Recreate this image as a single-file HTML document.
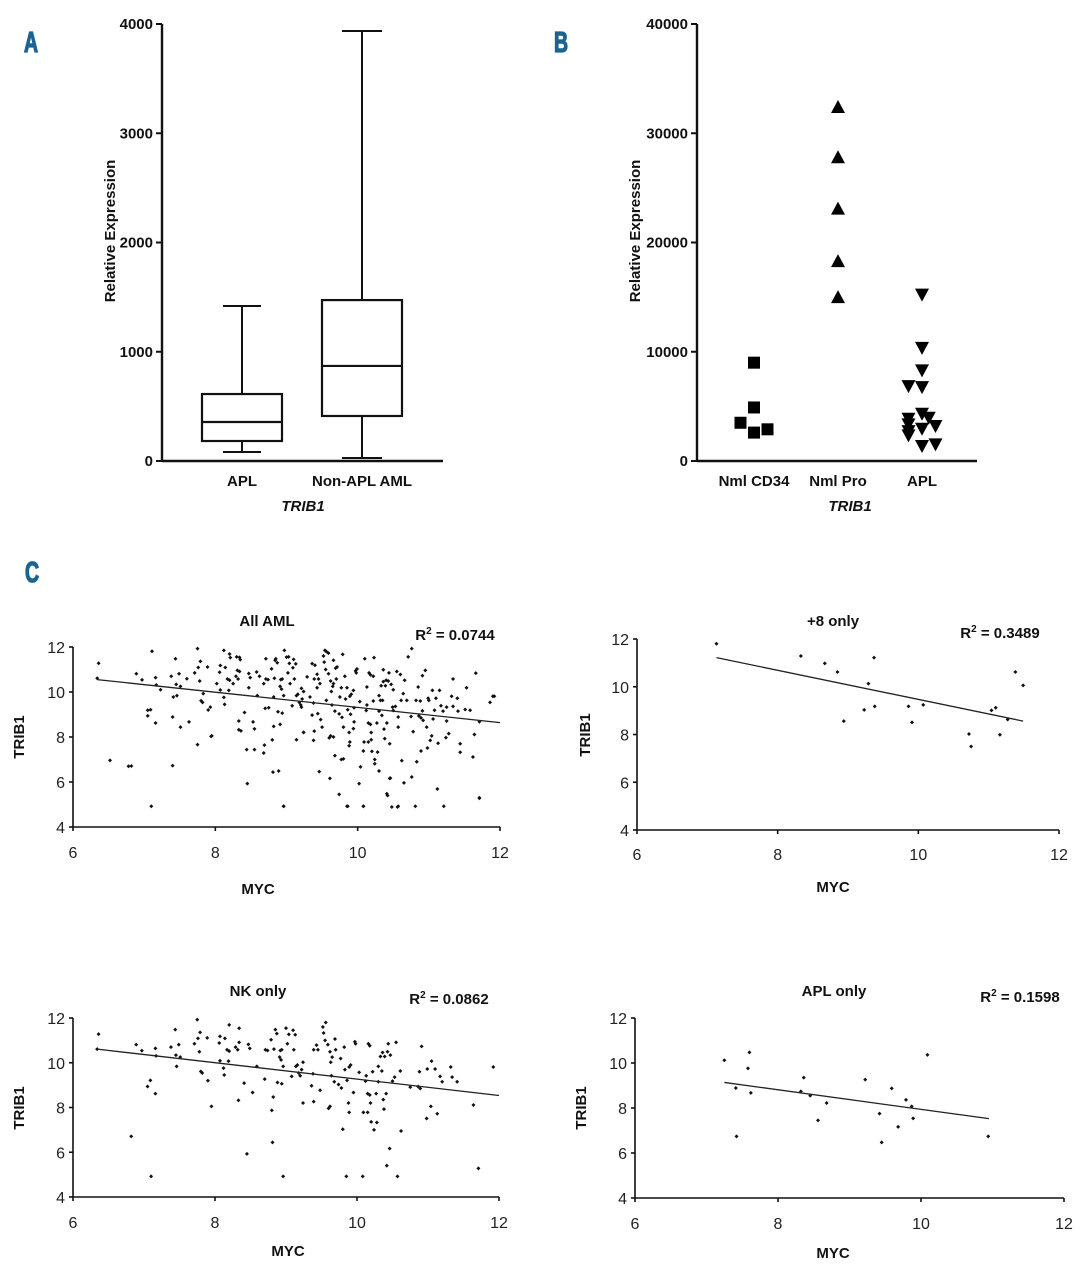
<!DOCTYPE html>
<html><head><meta charset="utf-8">
<style>
html,body{margin:0;padding:0;background:#fff;}
svg{display:block;font-family:"Liberation Sans",sans-serif;}
.pl{fill:#1a6493;stroke:#1a6493;stroke-width:1.2px;font-family:"Liberation Sans",sans-serif;font-weight:bold;font-size:26px;}
.bt{font-weight:bold;font-size:15px;fill:#111;}
.st{font-size:16px;fill:#222;}
.sh{font-weight:bold;font-size:15px;fill:#111;}
</style></head>
<body>
<svg id="fig" width="1091" height="1280" viewBox="0 0 1091 1280">
<text class="pl" transform="translate(24,52) scale(0.75,1.1)">A</text>
<text class="pl" transform="translate(554,52) scale(0.75,1.1)">B</text>
<text class="pl" transform="translate(25,582) scale(0.75,1.1)">C</text>
</svg>
<script>
// ---------- Panel A: box plot data ----------
const boxCategories = ["APL", "Non-APL AML"];
const boxMin = [82, 27];
const boxQ1 = [183, 412];
const boxMedian = [357, 870];
const boxQ3 = [613, 1473];
const boxMax = [1419, 3936];
const boxTicks = [0, 1000, 2000, 3000, 4000];

// ---------- Panel B: dot plot data ----------
const dotCategories = ["Nml CD34", "Nml Pro", "APL"];
const cd34Values = [9000, 4900, 3500, 2600, 2900];
const cd34Jitter = [0, 0, -1, 0, 1];
const proValues = [32400, 27800, 23100, 18300, 15000];
const proJitter = [0, 0, 0, 0, 0];
const aplValues = [15230, 10360, 8290, 6850, 6760, 4330, 3960, 3870, 3350, 3200, 2950, 2740, 2350, 1370, 1520];
const aplJitter = [0, 0, 0, -1, 0, 0, 0.5, -1, -1, 1, 0, -1, -1, 0, 1];
const dotTicks = [0, 10000, 20000, 30000, 40000];

// ---------- Panel C: scatter data (MYC x, TRIB1 y) ----------
const nkX = [6.36,6.34,6.82,6.89,6.97,7.05,7.09,7.10,7.16,7.16,7.17,7.38,7.44,7.45,7.46,7.49,7.51,7.71,7.75,7.76,7.79,7.78,7.80,7.82,7.89,7.90,7.95,8.06,8.07,8.07,8.12,8.13,8.14,8.17,8.19,8.20,8.20,8.29,8.32,8.33,8.34,8.34,8.41,8.45,8.47,8.49,8.53,8.59,8.70,8.71,8.74,8.79,8.80,8.81,8.82,8.83,8.85,8.87,8.88,8.91,8.92,8.93,8.94,8.94,8.96,8.96,9.00,9.02,9.04,9.08,9.10,9.11,9.13,9.14,9.16,9.18,9.20,9.22,9.24,9.24,9.36,9.38,9.39,9.39,9.43,9.45,9.48,9.52,9.53,9.55,9.56,9.59,9.60,9.62,9.62,9.63,9.64,9.65,9.68,9.69,9.70,9.74,9.77,9.78,9.80,9.82,9.83,9.85,9.86,9.88,9.89,9.89,9.91,9.95,9.97,9.98,10.03,10.08,10.09,10.12,10.13,10.15,10.15,10.16,10.18,10.18,10.19,10.20,10.22,10.24,10.27,10.28,10.30,10.30,10.33,10.35,10.36,10.37,10.38,10.39,10.41,10.42,10.43,10.44,10.46,10.47,10.50,10.53,10.55,10.57,10.61,10.62,10.75,10.86,10.88,10.89,10.91,10.98,10.99,11.04,11.05,11.10,11.13,11.17,11.20,11.32,11.34,11.41,11.64,11.71,11.92];
const nkY = [11.28,10.61,6.71,10.81,10.54,8.94,9.21,4.92,10.64,8.62,10.31,10.70,11.48,10.34,9.84,10.81,10.25,10.85,11.93,11.09,11.36,10.49,9.61,9.54,11.11,9.20,8.05,10.88,11.18,10.09,9.76,9.45,11.09,10.58,10.07,11.69,10.52,10.70,10.58,8.32,11.54,10.91,9.09,5.93,10.82,10.64,8.67,9.84,9.27,10.58,10.55,11.03,7.87,6.44,8.47,10.61,11.48,11.30,9.12,10.25,10.55,10.13,9.06,10.58,9.84,4.92,11.55,10.85,11.27,9.39,11.45,10.58,11.25,9.84,9.90,9.54,9.42,9.69,8.20,10.02,8.97,9.51,8.26,10.58,10.79,10.58,8.77,11.60,11.33,11.00,11.80,10.81,7.96,8.05,10.49,10.02,9.42,10.25,9.15,11.06,10.58,9.03,10.19,8.87,7.03,10.70,9.69,4.92,9.21,8.20,7.78,9.81,9.90,8.67,10.94,10.85,9.57,4.92,7.78,9.18,9.42,8.62,7.78,10.85,10.76,8.56,8.20,7.36,9.60,7.00,8.62,7.33,9.15,9.84,10.28,9.63,10.46,8.35,7.93,10.28,8.62,5.40,10.49,10.85,6.17,10.34,9.18,9.36,10.91,4.92,9.63,6.95,8.91,8.94,9.60,8.85,10.73,7.51,9.72,8.05,10.07,9.72,7.72,9.39,9.15,9.81,9.36,9.15,8.11,5.28,9.81];
const otherX = [7.11,7.05,6.78,6.52,7.40,7.40,7.51,7.63,7.75,7.41,7.94,8.12,8.21,8.30,8.35,8.31,8.25,8.33,8.36,8.44,8.55,8.55,8.62,8.68,8.69,8.71,8.75,8.84,8.89,8.97,8.91,8.96,9.03,9.09,9.14,9.21,9.24,9.33,9.36,9.40,9.43,9.44,9.46,9.50,9.54,9.59,9.61,9.66,9.68,9.74,9.77,9.79,9.80,9.85,9.86,9.88,9.90,9.95,9.99,10.02,10.04,10.08,10.10,10.13,10.19,10.23,10.24,10.30,10.34,10.40,10.41,10.45,10.48,10.56,10.50,10.57,10.60,10.65,10.69,10.71,10.76,10.76,10.78,10.81,10.83,10.85,10.89,10.92,10.95,10.97,11.00,11.02,11.06,11.12,11.15,11.21,11.24,11.25,11.28,11.34,11.40,11.44,11.44,11.53,11.58,11.62,11.66,11.71,11.90,11.86,11.71,11.51,11.25,11.08,10.91,10.82,10.64,10.49,10.32,9.94,9.75,9.56,9.47,9.29,9.21,9.05,8.82,8.68,8.58,8.47,8.02,7.93,7.83,7.60,7.23,10.66,10.22,9.66,9.71,10.36,10.45,10.08,9.66,9.38,10.57,9.94];
const otherY = [11.81,9.19,6.70,6.96,6.73,8.89,8.44,8.67,7.66,9.78,8.03,11.85,11.53,11.56,11.44,10.96,10.37,8.71,8.27,7.44,7.44,8.36,10.70,7.29,7.64,11.48,9.30,11.41,6.49,11.85,8.56,4.92,11.56,11.08,7.88,9.33,8.21,9.78,11.26,11.19,10.19,9.04,6.46,8.44,11.85,11.73,6.16,11.41,7.17,5.45,7.00,11.67,8.44,10.19,4.92,7.61,9.01,9.30,11.02,5.93,6.67,4.92,11.48,10.22,7.88,11.53,6.81,6.49,8.96,10.52,5.48,6.16,4.89,4.89,10.10,8.89,10.78,5.96,9.63,11.56,11.93,6.22,8.24,4.92,6.90,10.22,7.38,8.74,10.96,8.44,9.63,7.85,8.80,5.69,10.07,4.92,7.97,8.71,8.15,10.58,9.72,7.70,7.32,10.19,9.19,7.11,10.84,8.68,9.81,9.54,5.30,9.22,9.33,9.19,9.16,9.63,9.93,9.33,9.63,10.07,9.78,9.63,10.37,10.67,10.16,10.37,9.78,10.37,10.89,10.19,10.37,9.33,9.93,10.59,10.10,10.52,10.70,10.37,11.11,10.99,7.70,7.38,8.00,7.85,8.44,8.37];
const allX = nkX.concat(otherX);
const allY = nkY.concat(otherY);
const tri8X = [7.13,8.33,8.67,8.85,9.37,9.29,8.94,9.23,9.38,9.86,9.91,10.07,10.72,10.75,11.04,11.10,11.16,11.27,11.38,11.49];
const tri8Y = [11.80,11.29,10.98,10.62,11.22,10.13,8.56,9.03,9.18,9.18,8.51,9.24,8.02,7.50,9.01,9.12,7.99,8.63,10.62,10.06];
const aplX = [7.25,7.41,7.42,7.58,7.60,7.62,8.32,8.36,8.45,8.56,8.68,9.22,9.42,9.45,9.59,9.68,9.79,9.87,9.89,10.09,10.94];
const aplY = [10.12,8.89,6.74,9.76,10.47,8.67,8.74,9.35,8.55,7.45,8.22,9.26,7.75,6.47,8.87,7.16,8.36,8.07,7.54,10.36,6.74];
const trendSlope = [-0.3375, -0.61, -0.366, -0.435];
const trendIntercept = [12.69, 15.57, 12.93, 12.29];
const trendStart = [6.34, 7.13, 6.34, 7.25];
const trendEnd = [12.0, 11.49, 12.0, 10.95];
const scatterTitles = ["All AML", "+8 only", "NK only", "APL only"];
const r2Labels = ["0.0744", "0.3489", "0.0862", "0.1598"];
const xTicks = [6, 8, 10, 12];
const yTicks = [4, 6, 8, 10, 12];

const NS = "http://www.w3.org/2000/svg";
const svg = document.getElementById("fig");
function mk(tag, attrs, parent, txt) {
  const e = document.createElementNS(NS, tag);
  for (const k in attrs) e.setAttribute(k, attrs[k]);
  if (txt !== undefined) e.textContent = txt;
  (parent || svg).appendChild(e);
  return e;
}
function line(x1,y1,x2,y2,w,p){return mk("line",{x1,y1,x2,y2,stroke:"#111","stroke-width":w||2},p);}

// ---------- Panel A ----------
(function(){
  const g = mk("g", {});
  
  
  const x0 = 162, y0 = 461, yTop = 24, xEnd = 443;
  const ys = v => y0 - v / 4000 * (y0 - yTop);
  const centers = [242, 362], halfW = [40, 40], capW = [19, 20];
  line(x0, yTop, x0, y0+1, 2.4, g);
  line(x0, y0, xEnd, y0, 2.4, g);
  boxTicks.forEach(t => {
    line(x0-6, ys(t), x0, ys(t), 2, g);
    const tx = mk("text", {x: x0-9, y: ys(t)+5, "text-anchor":"end", class:"bt"}, g, t);
    
    
  });
  boxCategories.forEach((c, i) => {
    const cx = centers[i];
    const bg = mk("g", {}, g);
    
    
    line(cx, ys(boxMax[i]), cx, ys(boxQ3[i]), 2, bg);
    line(cx, ys(boxQ1[i]), cx, ys(boxMin[i]), 2, bg);
    line(cx-capW[i], ys(boxMax[i]), cx+capW[i], ys(boxMax[i]), 2, bg);
    line(cx-capW[i], ys(boxMin[i]), cx+capW[i], ys(boxMin[i]), 2, bg);
    mk("rect", {x: cx-halfW[i], y: ys(boxQ3[i]), width: 2*halfW[i], height: ys(boxQ1[i])-ys(boxQ3[i]), fill:"none", stroke:"#111","stroke-width":2.2}, bg);
    line(cx-halfW[i], ys(boxMedian[i]), cx+halfW[i], ys(boxMedian[i]), 2.2, bg);
    const lb = mk("text", {x: cx, y: 486, "text-anchor":"middle", class:"bt", "font-size":"16"}, g, c);
    
    
  });
  const xt = mk("text", {x: 303, y: 511, "text-anchor":"middle", class:"bt", "font-style":"italic", "font-size":"16"}, g, "TRIB1");
  
  
  const yt = mk("text", {x: 0, y: 0, transform:"translate(115,231) rotate(-90)", "text-anchor":"middle", class:"bt", "font-size":"19"}, g, "Relative Expression");
  
  
})();

// ---------- Panel B ----------
(function(){
  const g = mk("g", {});
  
  
  const x0 = 697, y0 = 461, yTop = 24, xEnd = 977;
  const ys = v => y0 - v / 40000 * (y0 - yTop);
  const centers = [754, 838, 922];
  const jit = 13.5;
  line(x0, yTop, x0, y0+1, 2.4, g);
  line(x0, y0, xEnd, y0, 2.4, g);
  dotTicks.forEach(t => {
    line(x0-6, ys(t), x0, ys(t), 2, g);
    const tx = mk("text", {x: x0-9, y: ys(t)+5, "text-anchor":"end", class:"bt"}, g, t);
    
    
  });
  const series = [[cd34Values, cd34Jitter, "square"], [proValues, proJitter, "up"], [aplValues, aplJitter, "down"]];
  series.forEach((s, i) => {
    const sg = mk("g", {}, g);
    
    
    s[0].forEach((v, j) => {
      const cx = centers[i] + s[1][j]*jit, cy = ys(v);
      let m;
      if (s[2] === "square") m = mk("rect", {x: cx-6, y: cy-6, width: 12, height: 12, fill:"#000"}, sg);
      else if (s[2] === "up") m = mk("polygon", {points: `${cx},${cy-7} ${cx-7},${cy+6} ${cx+7},${cy+6}`, fill:"#000"}, sg);
      else m = mk("polygon", {points: `${cx},${cy+7} ${cx-7},${cy-6} ${cx+7},${cy-6}`, fill:"#000"}, sg);
      
      
    });
    const lb = mk("text", {x: centers[i], y: 486, "text-anchor":"middle", class:"bt", "font-size":"16"}, g, dotCategories[i]);
    
    
  });
  const xt = mk("text", {x: 850, y: 511, "text-anchor":"middle", class:"bt", "font-style":"italic", "font-size":"16"}, g, "TRIB1");
  
  
  const yt = mk("text", {x: 0, y: 0, transform:"translate(640,231) rotate(-90)", "text-anchor":"middle", class:"bt", "font-size":"19"}, g, "Relative Expression");
  
  
})();

// ---------- Panel C scatters ----------
const layouts = [
  {x0:73, x1:500, yb:827, yt:647, title:[267,626], r2:[455,640], myc:[258,894], trib:[24,737], xl:858},
  {x0:637, x1:1059, yb:830, yt:639, title:[833,626], r2:[1000,638], myc:[833,892], trib:[590,735], xl:860},
  {x0:73, x1:499, yb:1197, yt:1018, title:[258,996], r2:[449,1004], myc:[288,1256], trib:[24,1108], xl:1228},
  {x0:635, x1:1064, yb:1198, yt:1018, title:[834,996], r2:[1020,1002], myc:[833,1258], trib:[586,1108], xl:1229}
];
const datasets = [[allX, allY], [tri8X, tri8Y], [nkX, nkY], [aplX, aplY]];
layouts.forEach((L, k) => {
  const g = mk("g", {});
  
  
  const xs = v => L.x0 + (v - 6) / 6 * (L.x1 - L.x0);
  const ys = v => L.yb - (v - 4) / 8 * (L.yb - L.yt);
  line(L.x0, L.yt, L.x0, L.yb, 1.6, g);
  line(L.x0, L.yb, L.x1, L.yb, 1.6, g);
  yTicks.forEach(t => {
    line(L.x0-4, ys(t), L.x0, ys(t), 1.6, g);
    const tx = mk("text", {x: L.x0-8, y: ys(t)+6, "text-anchor":"end", class:"st"}, g, t);
    
    
  });
  xTicks.forEach(t => {
    line(xs(t), L.yb, xs(t), L.yb+4, 1.6, g);
    const tx = mk("text", {x: xs(t), y: L.xl, "text-anchor":"middle", class:"st"}, g, t);
    
    
  });
  const pts = mk("g", {}, g);
  
  
  const X = datasets[k][0], Y = datasets[k][1];
  X.forEach((xv, i) => {
    const cx = xs(xv), cy = ys(Y[i]);
    const d = mk("polygon", {points: `${cx},${cy-2} ${cx+2},${cy} ${cx},${cy+2} ${cx-2},${cy}`, fill:"#111"}, pts);
    
    
  });
  const tl = mk("line", {x1: xs(trendStart[k]), y1: ys(trendSlope[k]*trendStart[k]+trendIntercept[k]), x2: xs(trendEnd[k]), y2: ys(trendSlope[k]*trendEnd[k]+trendIntercept[k]), stroke:"#222", "stroke-width":1.3}, g);
  
  
  const ti = mk("text", {x: L.title[0], y: L.title[1], "text-anchor":"middle", class:"sh"}, g, scatterTitles[k]);
  
  
  const r = mk("text", {x: L.r2[0], y: L.r2[1], "text-anchor":"middle", class:"sh"}, g);
  
  
  mk("tspan", {}, r, "R");
  mk("tspan", {dy:"-6", "font-size":"10"}, r, "2");
  mk("tspan", {dy:"6"}, r, " = " + r2Labels[k]);
  const mx = mk("text", {x: L.myc[0], y: L.myc[1], "text-anchor":"middle", class:"sh"}, g, "MYC");
  
  
  const ty = mk("text", {x:0, y:0, transform:`translate(${L.trib[0]},${L.trib[1]}) rotate(-90)`, "text-anchor":"middle", class:"sh"}, g, "TRIB1");
  
  
});
</script>
</body></html>
